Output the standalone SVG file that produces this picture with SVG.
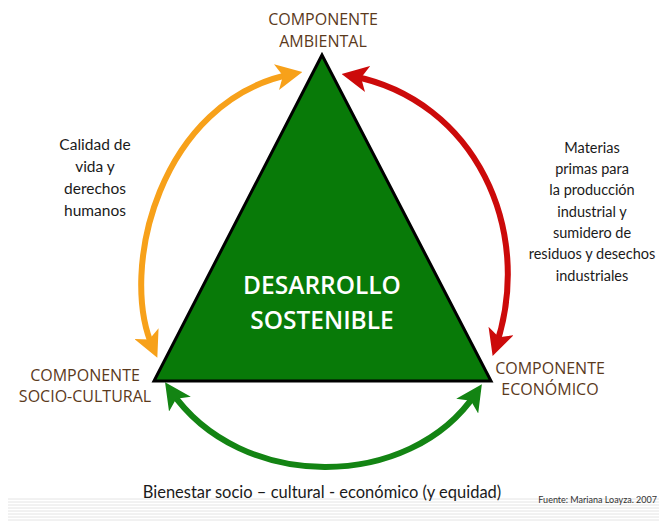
<svg xmlns="http://www.w3.org/2000/svg" width="659" height="523" viewBox="0 0 659 523">
<defs>
<style>
.lbl{font-family:"Open Sans","Liberation Sans",sans-serif;font-size:16px;font-weight:500;fill:#5b3a1c;text-anchor:middle}
.note{font-family:Lato,"Liberation Sans",sans-serif;font-size:15.5px;fill:#1a1a1a;text-anchor:middle}
.core{font-family:"Open Sans","Liberation Sans",sans-serif;font-size:24.5px;font-weight:600;fill:#ffffff;text-anchor:middle}
.conn{fill:none;stroke-width:6}
.stripe{stroke:#e4e4e4;stroke-width:1}
</style>
<marker id="mo" viewBox="0 0 10 10" refX="6" refY="5" markerWidth="4.4" markerHeight="4.4" orient="auto-start-reverse"><path d="M0,0 L10,5 L0,10 L2.5,5 z" fill="#f7a11a"/></marker>
<marker id="mr" viewBox="0 0 10 10" refX="6" refY="5" markerWidth="4.4" markerHeight="4.4" orient="auto-start-reverse"><path d="M0,0 L10,5 L0,10 L2.5,5 z" fill="#cc0a0a"/></marker>
<marker id="mg" viewBox="0 0 10 10" refX="6" refY="5" markerWidth="4.4" markerHeight="4.4" orient="auto-start-reverse"><path d="M0,0 L10,5 L0,10 L2.5,5 z" fill="#138413"/></marker>
</defs>
<rect width="659" height="523" fill="#ffffff"/>
<g id="stripes">
<line class="stripe" x1="8" y1="499" x2="659" y2="499"/>
<line class="stripe" x1="8" y1="502" x2="659" y2="502"/>
<line class="stripe" x1="8" y1="505" x2="659" y2="505"/>
<line class="stripe" x1="8" y1="508" x2="659" y2="508"/>
<line class="stripe" x1="8" y1="511" x2="659" y2="511"/>
<line class="stripe" x1="8" y1="514" x2="659" y2="514"/>
<line class="stripe" x1="8" y1="517" x2="659" y2="517"/>
<line class="stripe" x1="8" y1="520" x2="659" y2="520"/>
</g>
<g id="connectors">
<path class="conn" stroke="#f7a11a" marker-start="url(#mo)" marker-end="url(#mo)" d="M153,348 C118,270 160,100 292,74"/>
<path class="conn" stroke="#cc0a0a" marker-start="url(#mr)" marker-end="url(#mr)" d="M352,76 C475,100 535,230 496,346"/>
<path class="conn" stroke="#138413" marker-start="url(#mg)" marker-end="url(#mg)" d="M171,391 C240,492 410,492 476,393"/>
</g>
<g id="desarrollo">
<polygon points="322,55 154,381 491,381" fill="#087a08" stroke="#000000" stroke-width="3" stroke-linejoin="miter"/>
<text class="core" x="322" y="294">DESARROLLO</text>
<text class="core" x="322" y="329">SOSTENIBLE</text>
</g>
<g id="ambiental">
<text class="lbl" x="323" y="25">COMPONENTE</text>
<text class="lbl" x="323" y="47">AMBIENTAL</text>
</g>
<g id="sociocultural">
<text class="lbl" x="85" y="381">COMPONENTE</text>
<text class="lbl" x="85" y="402">SOCIO-CULTURAL</text>
</g>
<g id="economico">
<text class="lbl" x="550" y="374">COMPONENTE</text>
<text class="lbl" x="550" y="395">ECONÓMICO</text>
</g>
<g id="calidad">
<text class="note" x="95" y="150">Calidad de</text>
<text class="note" x="95" y="172">vida y</text>
<text class="note" x="95" y="194">derechos</text>
<text class="note" x="95" y="216">humanos</text>
</g>
<g id="materias" style="font-size:14.5px">
<text class="note" x="592" y="153" style="font-size:14.5px">Materias</text>
<text class="note" x="592" y="174" style="font-size:14.5px">primas para</text>
<text class="note" x="592" y="195" style="font-size:14.5px">la producción</text>
<text class="note" x="592" y="217" style="font-size:14.5px">industrial y</text>
<text class="note" x="592" y="238" style="font-size:14.5px">sumidero de</text>
<text class="note" x="592" y="259" style="font-size:14.5px">residuos y desechos</text>
<text class="note" x="592" y="281" style="font-size:14.5px">industriales</text>
</g>
<g id="bienestar">
<text class="note" x="322" y="498" style="font-size:16.5px">Bienestar socio – cultural - económico (y equidad)</text>
</g>
<g id="fuente">
<text x="657" y="503" style="font-family:Lato,'Liberation Sans',sans-serif;font-size:9px;fill:#333333;text-anchor:end">Fuente: Mariana Loayza. 2007</text>
</g>
</svg>
